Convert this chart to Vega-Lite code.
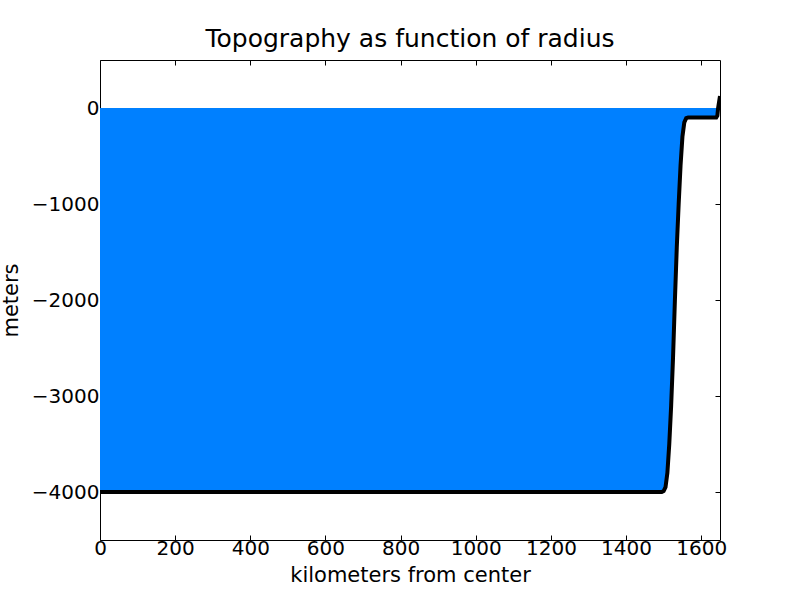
{
  "$schema": "https://vega.github.io/schema/vega-lite/v6.json",
  "autosize": "none",
  "width": 620,
  "height": 480,
  "padding": {"left": 100, "top": 60, "right": 80, "bottom": 60},
  "background": "white",
  "title": {"text": "Topography as function of radius", "fontSize": 25, "font": "DejaVu Sans", "fontWeight": "normal", "color": "black", "offset": 8},
  "config": {
    "font": "DejaVu Sans",
    "view": {"stroke": "black", "strokeWidth": 1},
    "axis": {"domain": false, "grid": false, "tickColor": "black", "tickSize": -5, "tickWidth": 1, "labelColor": "black", "labelFontSize": 20, "titleFontSize": 21, "titleFontWeight": "normal", "titleColor": "black", "labelFont": "DejaVu Sans", "titleFont": "DejaVu Sans", "labelFlush": false, "labelOverlap": false}
  },
  "data": {"values": [
    {"r": 0, "topo": -4000},
    {"r": 1495, "topo": -4000},
    {"r": 1500, "topo": -3990},
    {"r": 1505, "topo": -3950},
    {"r": 1510, "topo": -3800},
    {"r": 1515, "topo": -3500},
    {"r": 1520, "topo": -3100},
    {"r": 1525, "topo": -2600},
    {"r": 1530, "topo": -2000},
    {"r": 1535, "topo": -1450},
    {"r": 1540, "topo": -1000},
    {"r": 1545, "topo": -600},
    {"r": 1550, "topo": -300},
    {"r": 1555, "topo": -150},
    {"r": 1560, "topo": -105},
    {"r": 1565, "topo": -100},
    {"r": 1640, "topo": -100},
    {"r": 1643, "topo": -80},
    {"r": 1645, "topo": 0},
    {"r": 1650, "topo": 125}
  ]},
  "resolve": {"axis": {"x": "independent", "y": "independent"}},
  "layer": [
    {
      "transform": [{"filter": "datum.topo <= 0"}],
      "mark": {"type": "area", "color": "#0080ff", "opacity": 1, "clip": true},
      "encoding": {
        "x": {"field": "r", "type": "quantitative", "scale": {"domain": [0, 1650], "nice": false, "zero": false},
          "axis": {"orient": "bottom", "values": [0, 200, 400, 600, 800, 1000, 1200, 1400, 1600], "title": "kilometers from center", "labelPadding": 3, "titlePadding": 6, "format": "d"}},
        "y": {"field": "topo", "type": "quantitative", "scale": {"domain": [-4500, 500], "nice": false, "zero": false},
          "axis": {"orient": "left", "values": [-4000, -3000, -2000, -1000, 0], "title": "meters", "labelPadding": 6, "titlePadding": 10, "format": "d"}},
        "y2": {"datum": 0}
      }
    },
    {
      "mark": {"type": "line", "color": "black", "strokeWidth": 4, "clip": true},
      "encoding": {
        "x": {"field": "r", "type": "quantitative",
          "axis": {"orient": "top", "values": [0, 200, 400, 600, 800, 1000, 1200, 1400, 1600], "labels": false, "title": null}},
        "y": {"field": "topo", "type": "quantitative",
          "axis": {"orient": "right", "values": [-4000, -3000, -2000, -1000, 0], "labels": false, "title": null}}
      }
    }
  ]
}
